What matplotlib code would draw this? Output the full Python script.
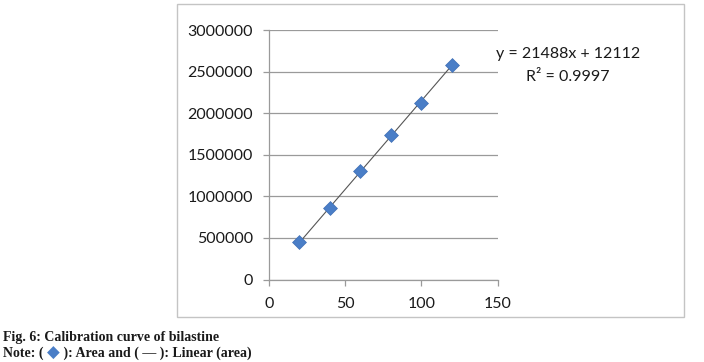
import numpy as np
import matplotlib
matplotlib.use("Agg")
import matplotlib.pyplot as plt
from matplotlib.patches import Rectangle

# Data
conc = [20, 40, 60, 80, 100, 120]
area = [447000, 860000, 1312000, 1740000, 2128000, 2588000]
x_ticks = [0, 50, 100, 150]
y_ticks = [0, 500000, 1000000, 1500000, 2000000, 2500000, 3000000]
eq_text = "y = 21488x + 12112"
r2_text = "R² = 0.9997"
caption1 = "Fig. 6: Calibration curve of bilastine"

W, H = 704, 362
fig = plt.figure(figsize=(W / 100, H / 100), dpi=100)
fig.patch.set_facecolor("white")

# chart border
fig.patches.append(Rectangle((177 / W, 1 - 317 / H), 507 / W, 313 / H,
                             transform=fig.transFigure, fill=False,
                             edgecolor="#c4c4c4", linewidth=1.0))

ax = fig.add_axes([269 / W, 1 - 279.5 / H, (497.7 - 269) / W, (279.5 - 30.3) / H])
grid_c = "#9a9a9a"
ax.set_xlim(0, 150)
ax.set_ylim(0, 3000000)
ax.set_xticks(x_ticks)
ax.set_yticks(y_ticks)
ax.set_xticklabels([str(v) for v in x_ticks])
ax.set_yticklabels([str(v) for v in y_ticks])
for s in ["top", "right"]:
    ax.spines[s].set_visible(False)
for s in ["left", "bottom"]:
    ax.spines[s].set_color(grid_c)
    ax.spines[s].set_linewidth(0.9)
ax.yaxis.grid(True, color=grid_c, linewidth=0.9)
ax.set_axisbelow(True)
ax.tick_params(axis="both", colors=grid_c, length=4.3, width=0.9,
               labelcolor="#1a1a1a", labelsize=11.5)
ax.tick_params(axis="y", pad=7.4)
ax.tick_params(axis="x", pad=8)
for lbl in ax.get_xticklabels() + ax.get_yticklabels():
    lbl.set_fontfamily("Lato")

# trendline
m, b = np.polyfit(conc, area, 1)
xs = np.array([min(conc), max(conc)])
ax.plot(xs, m * xs + b, color="#555555", linewidth=0.8, zorder=2)
ax.scatter(conc, area, marker="D", s=50, color="#4a7ec7", edgecolors="#3f6fb5",
           linewidths=0.5, zorder=3, clip_on=False)

fig.text(568 / W, 1 - 54 / H, eq_text, ha="center", va="center",
         fontsize=11.5, family="Lato", color="#1a1a1a")
fig.text(568 / W, 1 - 77 / H, r2_text, ha="center", va="center",
         fontsize=11.5, family="Lato", color="#1a1a1a")

# caption
cap_fam = ["Liberation Serif", "DejaVu Serif"]
cap_fs = 10
fig.text(3 / W, 1 - 337 / H, caption1, ha="left", va="center",
         fontsize=cap_fs, fontweight="bold", family=cap_fam, color="#1a1a1a")
cap_y = 1 - 353 / H
t1 = fig.text(3 / W, cap_y, "Note: ( ", ha="left", va="center", fontsize=cap_fs,
              fontweight="bold", family=cap_fam, color="#1a1a1a")
fig.canvas.draw()
r = fig.canvas.get_renderer()
bb = t1.get_window_extent(r)
t2 = fig.text(bb.x1 / W, cap_y, "◆", ha="left", va="center", fontsize=12,
              family=["DejaVu Sans"], color="#4a7ec7")
bb2 = t2.get_window_extent(r)
fig.text(bb2.x1 / W, cap_y, " ): Area and ( \u2014 ): Linear (area)", ha="left", va="center",
         fontsize=cap_fs, fontweight="bold", family=cap_fam, color="#1a1a1a")

fig.savefig("out.png", dpi=100, facecolor="white")
